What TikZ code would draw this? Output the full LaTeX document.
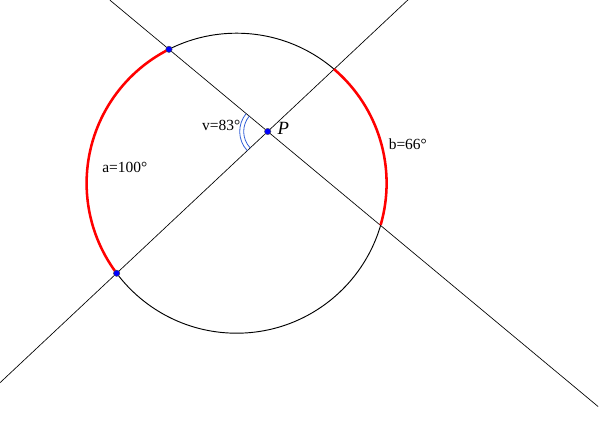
\documentclass[tikz,border=0pt]{standalone}
\usepackage{fontspec}
\setmainfont{Liberation Serif}
\usetikzlibrary{calc}
\definecolor{arcred}{RGB}{255,0,0}
\definecolor{anglblue}{RGB}{50,95,215}
\definecolor{dotblue}{RGB}{0,0,255}
\tikzset{
  thinline/.style={line width=0.5pt, black},
  circline/.style={line width=0.7pt, black},
  redarc/.style={line width=1.9pt, arcred},
  angarc/.style={line width=0.6pt, anglblue},
  pointdot/.style={circle, fill=dotblue, draw=black!70, line width=0.3pt, inner sep=0pt, minimum size=4.8pt},
  lbl/.style={inner sep=0pt, font=\fontsize{11.6pt}{13pt}\selectfont},
}
\begin{document}
\begin{tikzpicture}[x=0.75pt,y=0.75pt]
\useasboundingbox (0,0) rectangle (600,440);
\coordinate (O) at (236.6,256.8);
\coordinate (A) at ($(O)+(116.8:112.5pt)$);
\coordinate (B) at ($(O)+(216.9:112.5pt)$);
\coordinate (P) at (267.7,308.5);
% lines
\coordinate (L1s) at ($(A)!-0.598!(P)$);
\coordinate (L1e) at ($(A)!4.347!(P)$);
\coordinate (L2s) at ($(B)!-0.7728!(P)$);
\coordinate (L2e) at ($(B)!1.93!(P)$);
\draw[thinline] (L1s) -- (L1e);
\draw[thinline] (L2s) -- (L2e);
% circle
\draw[circline] (O) circle[radius=112.5pt];
% red arcs
\draw[redarc] ($(O)+(116.8:112.5pt)$) arc[start angle=116.8, end angle=216.9, radius=112.5pt];
\draw[redarc] ($(O)+(-16.2:112.5pt)$) arc[start angle=-16.2, end angle=49.5, radius=112.5pt];
% angle marks
\draw[angarc] ($(P)+(140.2:18pt)$) arc[start angle=140.2, end angle=223.2, radius=18pt];
\draw[angarc] ($(P)+(140.2:21pt)$) arc[start angle=140.2, end angle=223.2, radius=21pt];
% points
\node[pointdot] (dA) at (A) {};
\node[pointdot] (dB) at (B) {};
\node[pointdot] (dP) at (P) {};
% labels
\node[lbl, anchor=base east] (lv) at (240.5,310) {v=83°};
\node[lbl, anchor=base west] (la) at (102,267.5) {a=100°};
\node[lbl, anchor=base west] (lb) at (388.5,290.5) {b=66°};
\node[inner sep=0pt, anchor=base west, font=\fontsize{14pt}{16pt}\selectfont\itshape] (lP) at (277.3,305.3) {P};
\end{tikzpicture}
\end{document}
